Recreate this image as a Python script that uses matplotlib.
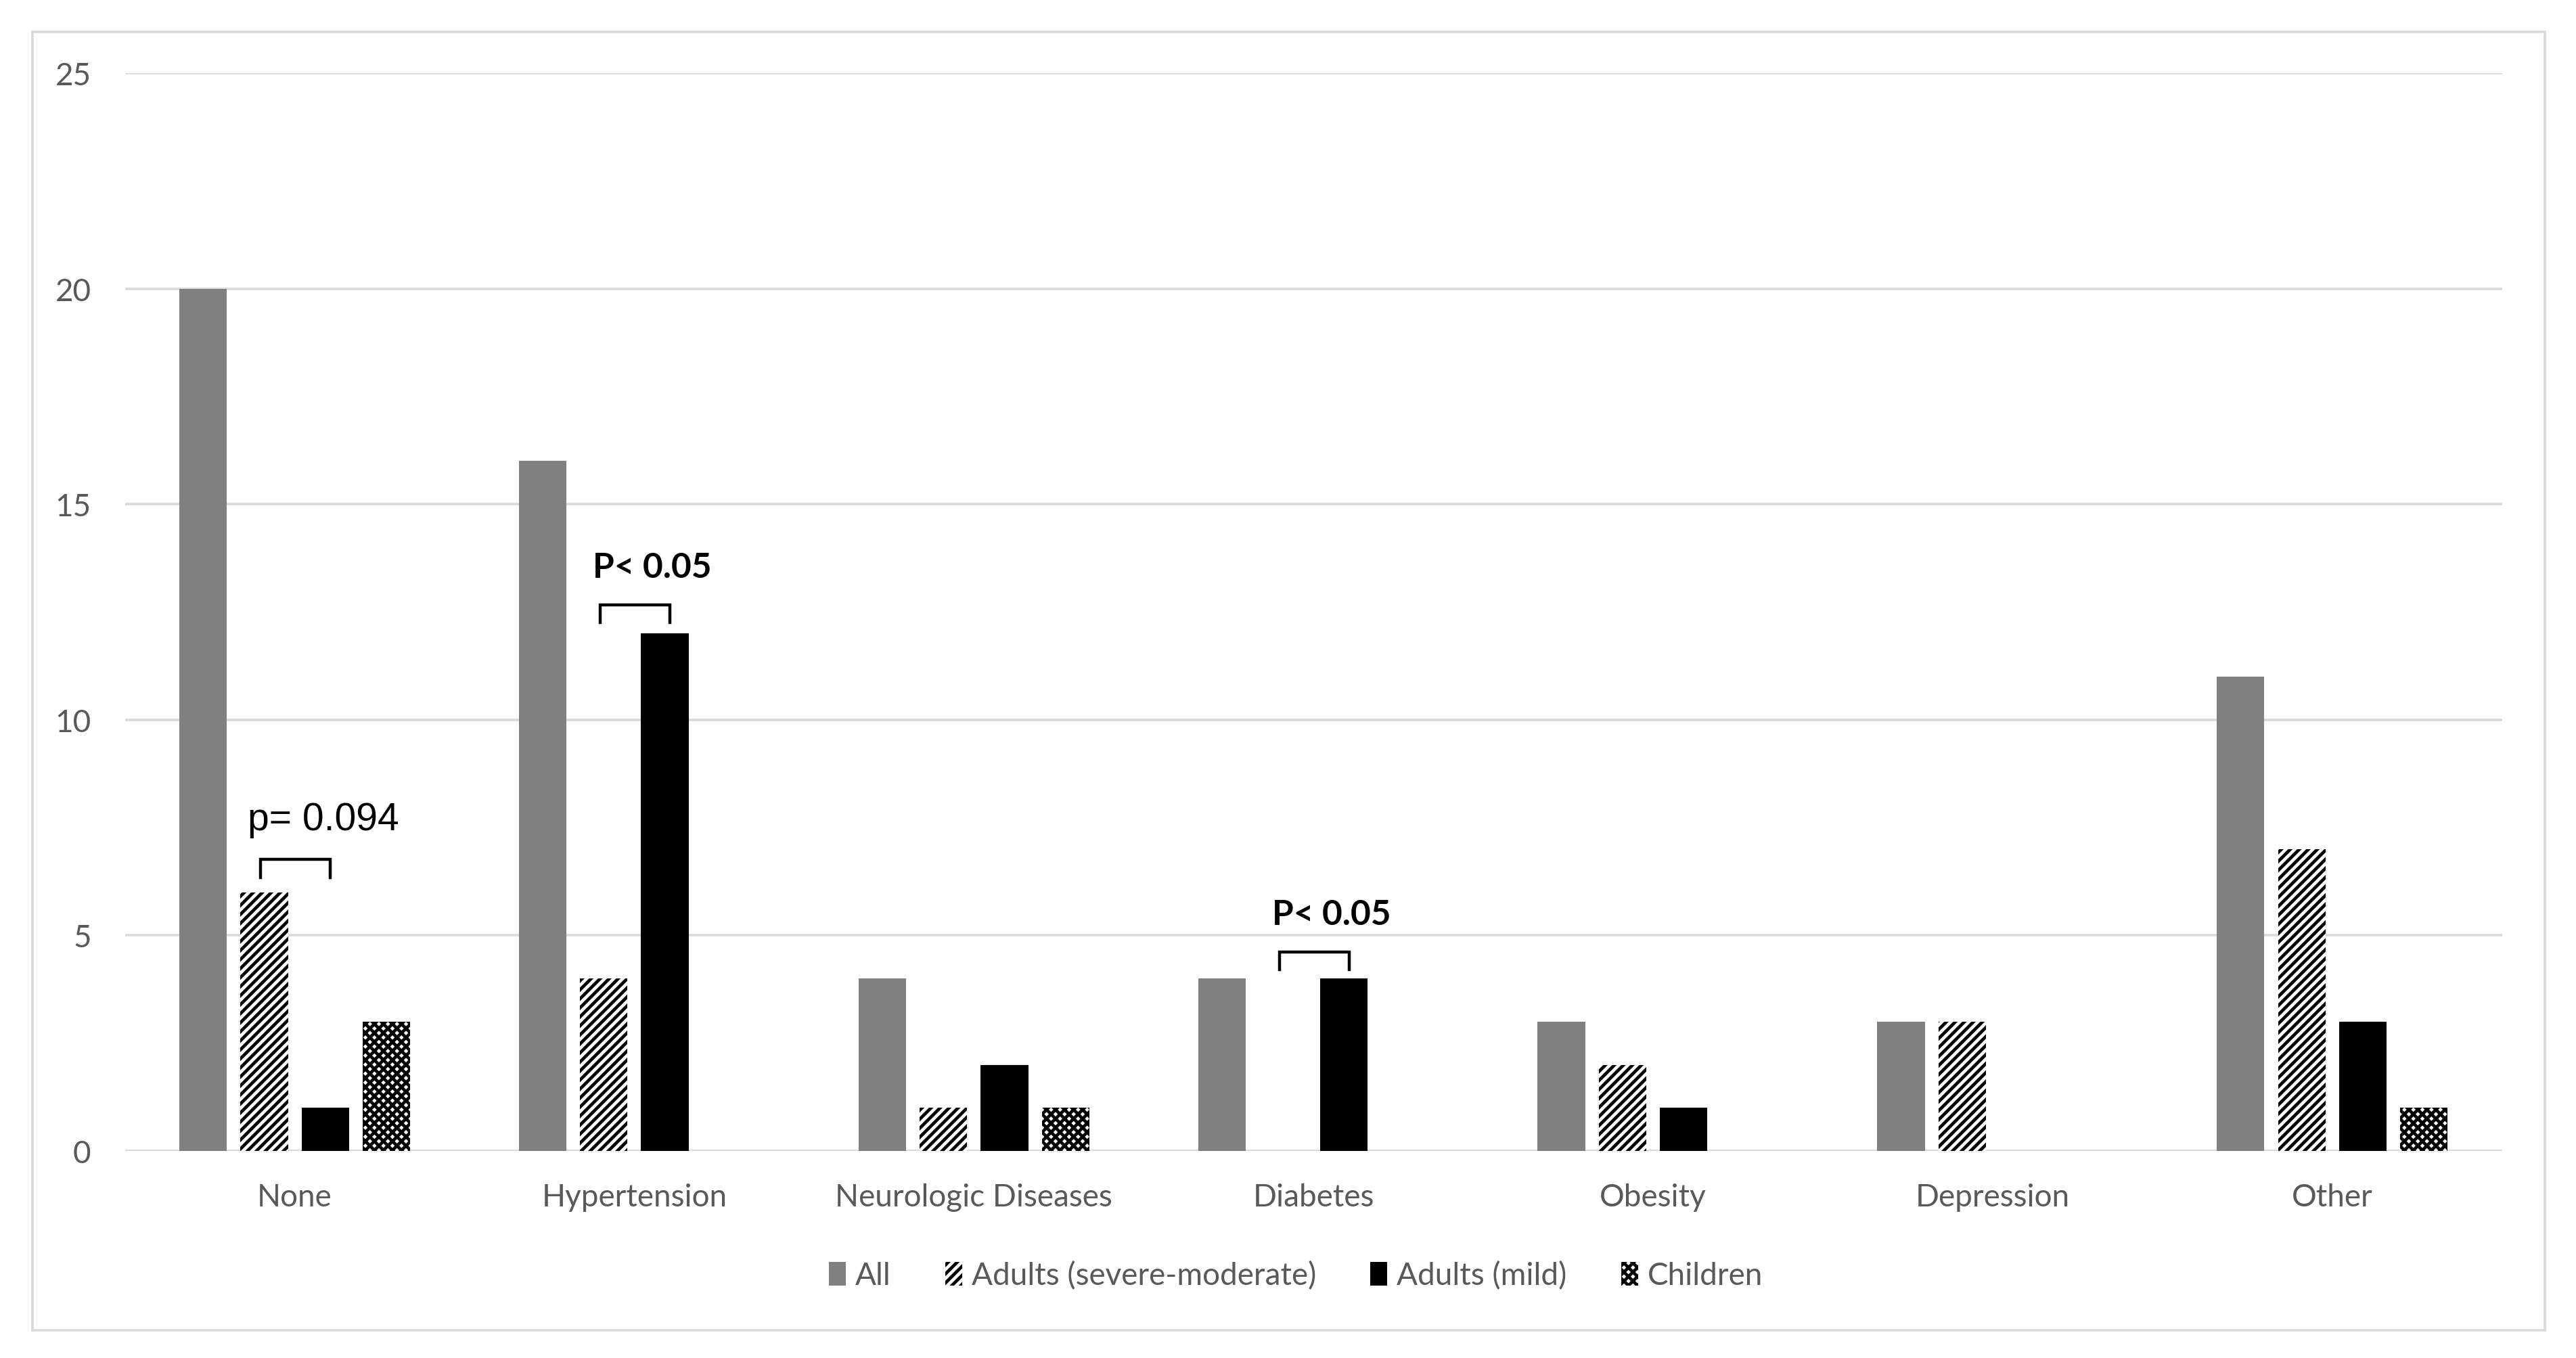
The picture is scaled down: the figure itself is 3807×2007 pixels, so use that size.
import matplotlib
matplotlib.use('Agg')
import matplotlib.pyplot as plt
import matplotlib.patches as mpatches
import numpy as np

categories = ['None', 'Hypertension', 'Neurologic Diseases', 'Diabetes',
              'Obesity', 'Depression', 'Other']
series_names = ['All', 'Adults (severe-moderate)', 'Adults (mild)', 'Children']
all_vals = [20, 16, 4, 4, 3, 3, 11]
severe_vals = [6, 4, 1, 0, 2, 3, 7]
mild_vals = [1, 12, 2, 4, 1, 0, 3]
children_vals = [3, 0, 1, 0, 0, 0, 1]
yticks = [0, 5, 10, 15, 20, 25]

# significance brackets: category index, bracket top, label
sig_cats = [0, 1, 3]
sig_tops = [6.76, 12.67, 4.62]
sig_labels = ['p= 0.094', 'P< 0.05', 'P< 0.05']

plt.rcParams['hatch.linewidth'] = 1.7

fig = plt.figure(figsize=(3807 / 200, 2008 / 200), dpi=200, facecolor='white')
ax = fig.add_axes([0.0485, 0.1524, 0.9228, 0.7933])

x = np.arange(len(categories))
w = 0.14
step = 0.18
offs = [-1.5 * step, -0.5 * step, 0.5 * step, 1.5 * step]

b1 = ax.bar(x + offs[0], all_vals, w, color='#808080', linewidth=0, zorder=3)
b2 = ax.bar(x + offs[1], severe_vals, w, color='white', edgecolor='black',
            hatch='/////', linewidth=0, zorder=3)
b3 = ax.bar(x + offs[2], mild_vals, w, color='black', linewidth=0, zorder=3)
b4 = ax.bar(x + offs[3], children_vals, w, color='white', edgecolor='black',
            hatch='xxxxx', linewidth=0, zorder=3)

ax.set_xlim(-0.5, len(categories) - 0.5)
ax.set_ylim(0, 25)
ax.set_yticks(yticks)
ax.set_xticks(x)
ax.set_xticklabels(categories)
ax.yaxis.grid(True, color='#D9D9D9', linewidth=1.3, zorder=0)
ax.axhline(0, color='#D9D9D9', linewidth=1.3, zorder=2)
for s in ax.spines.values():
    s.set_visible(False)
ax.tick_params(length=0, labelsize=16.5, labelcolor='#595959')
ax.tick_params(axis='x', pad=17)
ax.tick_params(axis='y', pad=18)
for lbl in ax.get_xticklabels() + ax.get_yticklabels():
    lbl.set_family('Lato')

for c, top, lab in zip(sig_cats, sig_tops, sig_labels):
    x0 = c + offs[1] - 0.01
    x1 = c + offs[2] + 0.015
    ax.plot([x0, x0, x1, x1], [top - 0.42, top, top, top - 0.42],
            color='black', linewidth=1.6, zorder=4, solid_joinstyle='miter')
    if lab.startswith('p'):
        ax.text(c + 0.085, top + 0.5, lab, ha='center', va='bottom',
                fontsize=20.5, family='Liberation Sans', color='black')
    else:
        ax.text((x0 + x1) / 2 + 0.05, top + 0.5, lab, ha='center', va='bottom',
                fontsize=18.5, family='Lato', fontweight='bold', color='black')

leg = fig.legend([b1, b2, b3, b4], series_names, loc='center',
                 bbox_to_anchor=(0.503, 0.061), ncol=4, frameon=False,
                 handlelength=0.55, handleheight=0.8, handletextpad=0.3,
                 columnspacing=1.75, prop={'family': 'Lato', 'size': 16.5})
for t in leg.get_texts():
    t.set_color('#595959')

border = mpatches.Rectangle((48 / 3807, 1 - 1967 / 2008), (3761 - 48) / 3807,
                            (1967 - 48) / 2008, transform=fig.transFigure,
                            fill=False, edgecolor='#D9D9D9', linewidth=1.3)
fig.patches.append(border)

fig.savefig('out.png', dpi=200, facecolor='white')
